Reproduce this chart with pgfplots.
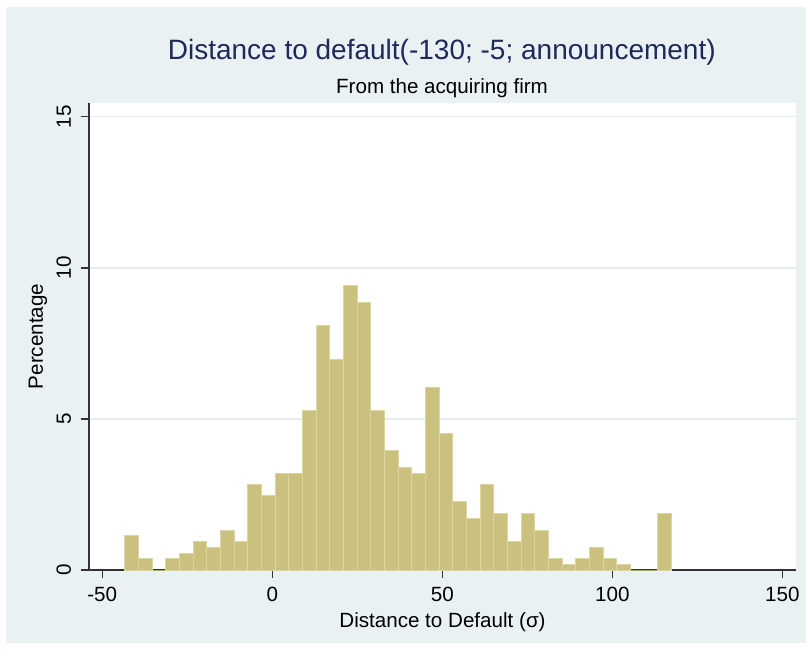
\documentclass[border=0pt]{standalone}
\usepackage{fontspec}
\setmainfont{Liberation Sans}
\usepackage{pgfplots}
\pgfplotsset{compat=1.18}
\definecolor{bgblue}{HTML}{EAF1F3}
\definecolor{titleblue}{HTML}{1E2A5A}
\definecolor{barfill}{HTML}{C9C17D}
\definecolor{baredge}{HTML}{DCD59E}
\definecolor{gridc}{HTML}{E6ECEE}
\definecolor{axc}{HTML}{333333}
\begin{document}
\begin{tikzpicture}
\useasboundingbox (0,0) rectangle (403pt,326pt);
\fill[white] (0,0) rectangle (403pt,326pt);
\fill[bgblue] (3pt,4.5pt) rectangle (403pt,322.5pt);
\begin{axis}[
  at={(44.5pt,41pt)}, anchor=south west,
  scale only axis, width=353.5pt, height=233.5pt,
  xmin=-53.9, xmax=154, ymin=0, ymax=15.46,
  axis background/.style={fill=white},
  axis x line*=bottom, axis y line*=left,
  axis line style={draw=axc, line width=0.6pt, -},
  xtick={-50,0,50,100,150}, ytick={0,5,10,15},
  tick align=outside, major tick length=4pt,
  tick style={draw=axc, line width=0.6pt},
  ymajorgrids, grid style={draw=gridc, line width=0.6pt},
  /pgf/number format/assume math mode=true,
  tick label style={font=\fontsize{10.3}{12}\selectfont, text=black},
  xticklabel style={anchor=base, inner sep=0pt},
  xticklabel shift=11.85pt,
  yticklabel style={rotate=90, anchor=south, inner sep=0pt},
  yticklabel shift=4.8pt,
  xlabel={Distance to Default (σ)},
  xlabel style={at={(axis description cs:0.5,-0.1227)}, anchor=base, inner sep=0pt, font=\fontsize{10.3}{12}\selectfont},
  ylabel={Percentage},
  ylabel style={at={(axis description cs:-0.0651,0.5)}, anchor=base, inner sep=0pt, font=\fontsize{10.3}{12}\selectfont},
]
\addplot[ybar interval, fill=barfill, draw=baredge, line width=0.5pt] coordinates {
(-43.40,1.13) (-39.38,0.38) (-35.36,0) (-31.34,0.38) (-27.32,0.56)
(-23.30,0.94) (-19.28,0.75) (-15.26,1.32) (-11.24,0.94) (-7.22,2.82)
(-3.20,2.45) (0.82,3.20) (4.84,3.20) (8.86,5.27) (12.88,8.10)
(16.90,6.97) (20.92,9.42) (24.94,8.85) (28.96,5.27) (32.98,3.95)
(37.00,3.39) (41.02,3.20) (45.04,6.03) (49.06,4.52) (53.08,2.26)
(57.10,1.69) (61.12,2.82) (65.14,1.88) (69.16,0.94) (73.18,1.88)
(77.20,1.32) (81.22,0.38) (85.24,0.19) (89.26,0.38) (93.28,0.75)
(97.30,0.38) (101.32,0.19) (105.34,0) (109.36,0) (113.38,1.88)
(117.40,0)
};
\end{axis}
\node[anchor=base, text=titleblue, font=\fontsize{14}{16}\selectfont] at (220.9pt,296.35pt) {Distance to default(-130; -5; announcement)};
\node[anchor=base, text=black, font=\fontsize{10.3}{12}\selectfont] at (221pt,279pt) {From the acquiring firm};
\end{tikzpicture}
\end{document}
